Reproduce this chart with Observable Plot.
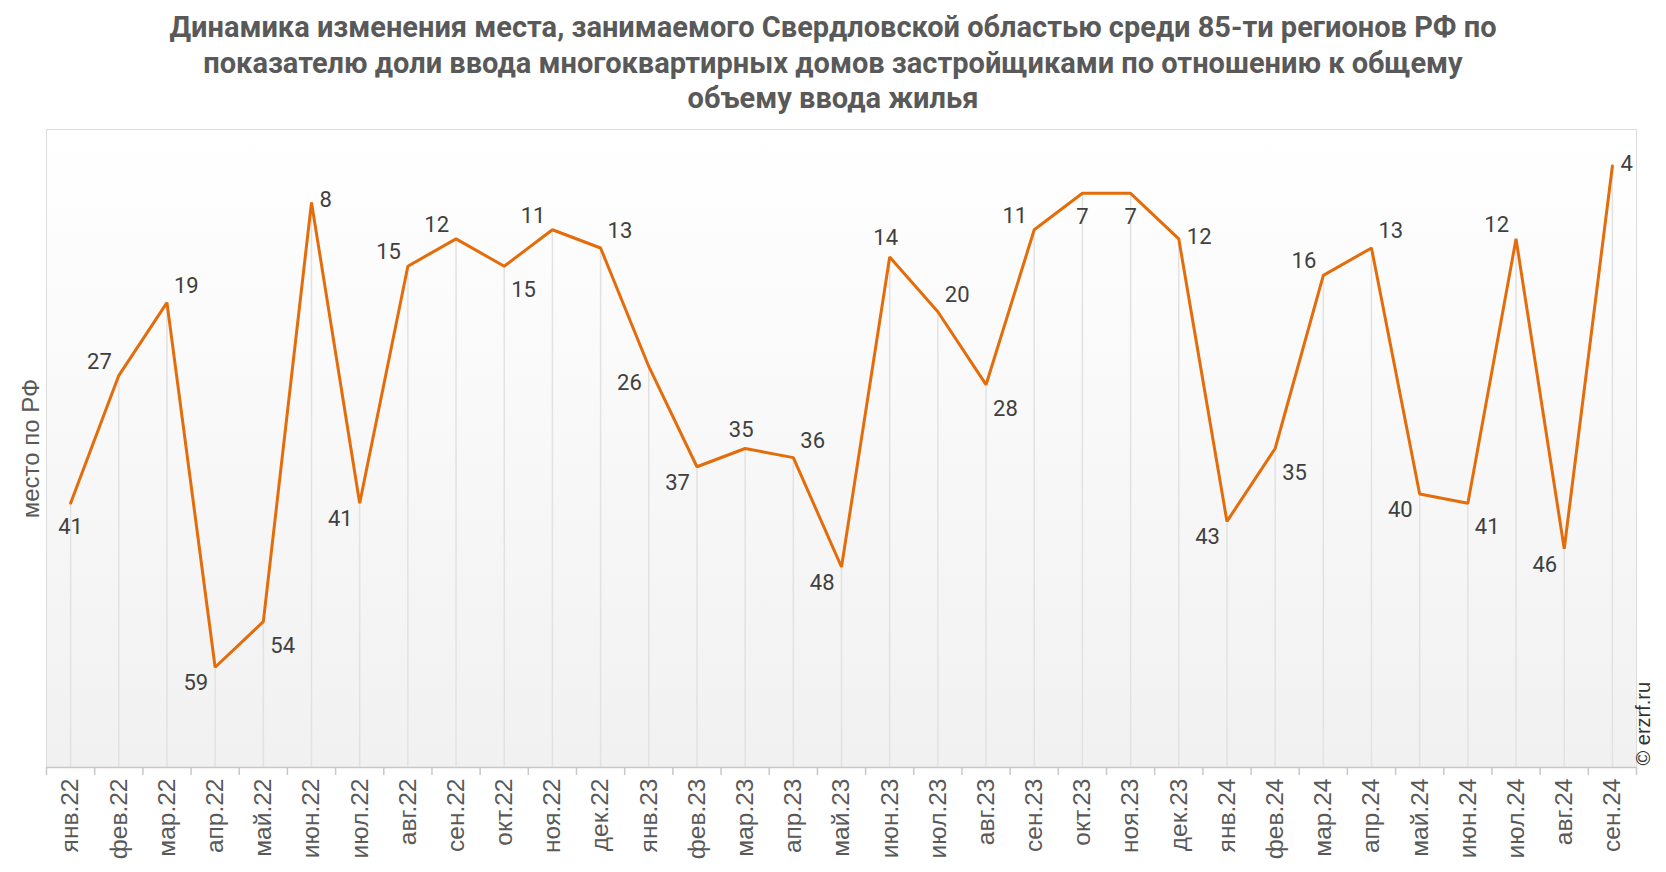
<!DOCTYPE html>
<html><head><meta charset="utf-8">
<script src="https://cdn.jsdelivr.net/npm/d3@7"></script>
<script src="https://cdn.jsdelivr.net/npm/@observablehq/plot@0.6"></script>
<style>
html,body{margin:0;padding:0;background:#fff;}
#title{width:1666px;height:120px;box-sizing:border-box;padding-top:10px;text-align:center;font-family:Roboto,sans-serif;font-weight:700;font-size:29px;line-height:35.5px;color:#595959;}
#chart svg{display:block;}
</style></head><body>
<div id="title">Динамика изменения места, занимаемого Свердловской областью среди 85-ти регионов РФ по<br>показателю доли ввода многоквартирных домов застройщиками по отношению к общему<br>объему ввода жилья</div>
<div id="chart"></div>
<script>
const months = ["янв.22","фев.22","мар.22","апр.22","май.22","июн.22","июл.22","авг.22","сен.22","окт.22","ноя.22","дек.22",
  "янв.23","фев.23","мар.23","апр.23","май.23","июн.23","июл.23","авг.23","сен.23","окт.23","ноя.23","дек.23",
  "янв.24","фев.24","мар.24","апр.24","май.24","июн.24","июл.24","авг.24","сен.24"];
const ranks = [41,27,19,59,54,8,41,15,12,15,11,13, 26,37,35,36,48,14,20,28,11,7,7,12, 43,35,16,13,40,41,12,46,4];
const labelPlacement = ["b","tl","tr","bl","br","r","bl","tl","tl","br","tl","tr",
  "bl","bl","t","tr","bl","t","tr","br","tl","b","b","r",
  "bl","br","tl","tr","bl","br","tl","bl","r"];
const yTitle = "место по РФ";
const credit = "© erzrf.ru";

const data = months.map((m, i) => ({i, month: m, rank: ranks[i], pos: labelPlacement[i]}));
const place = {
  t:  {textAnchor: "middle", dx: -4, dy: -19},
  b:  {textAnchor: "middle", dx: 0,  dy: 24},
  tl: {textAnchor: "end",    dx: -7, dy: -14},
  tr: {textAnchor: "start",  dx: 7,  dy: -17},
  bl: {textAnchor: "end",    dx: -7, dy: 16},
  br: {textAnchor: "start",  dx: 7,  dy: 24},
  l:  {textAnchor: "end",    dx: -8, dy: 0},
  r:  {textAnchor: "start",  dx: 8,  dy: -2}
};
const labelMarks = Object.entries(place).map(([k, o]) =>
  Plot.text(data.filter(d => d.pos === k), {x: "i", y: "rank", text: d => String(d.rank),
    textAnchor: o.textAnchor, dx: o.dx, dy: o.dy, fill: "#404040", fontSize: 22,
    fontFamily: "Roboto, sans-serif"}));

const yMax = 70;
const plot = Plot.plot({
  width: 1666, height: 752,
  marginTop: 9, marginBottom: 105, marginLeft: 46, marginRight: 30,
  style: {fontFamily: "'Liberation Sans', Arial, sans-serif", background: "transparent"},
  x: {type: "linear", domain: [-0.5, months.length - 0.5], label: null},
  y: {domain: [0, yMax], reverse: true, axis: null, label: null},
  marks: [
    Plot.frame({fill: "url(#bgGrad)", stroke: "#dcdcdc"}),
    Plot.ruleX(data, {x: "i", y1: "rank", y2: yMax, stroke: "#e2e2e2", strokeWidth: 1.5}),
    Plot.ruleY([yMax], {stroke: "#c8c8c8", strokeWidth: 1.5}),
    Plot.axisX({ticks: d3.range(months.length + 1).map(i => i - 0.5), tickSize: 8,
      tickFormat: () => "", stroke: "#c8c8c8", strokeWidth: 1.5, label: null}),
    Plot.axisX({ticks: d3.range(months.length), tickSize: 0, tickPadding: 11,
      tickFormat: i => months[i], tickRotate: -90, fontSize: 24.5, color: "#595959", label: null}),
    Plot.line(data, {x: "i", y: "rank", stroke: "#e46c0a", strokeWidth: 3, strokeLinejoin: "miter"}),
    ...labelMarks,
    Plot.text([yTitle], {frameAnchor: "left", text: d => d, rotate: -90, dx: -15,
      fontSize: 24, fill: "#595959", textAnchor: "middle"}),
    Plot.text([credit], {frameAnchor: "bottom-right", text: d => d, rotate: -90, dx: 13, dy: -2,
      fontSize: 20, fill: "#333333", textAnchor: "start"})
  ]
});
const svg = d3.select(plot);
const defs = svg.insert("defs", ":first-child");
const g = defs.append("linearGradient").attr("id", "bgGrad").attr("x1", 0).attr("y1", 0).attr("x2", 0).attr("y2", 1);
g.append("stop").attr("offset", "0%").attr("stop-color", "#ffffff");
g.append("stop").attr("offset", "100%").attr("stop-color", "#f1f1f1");
document.getElementById("chart").appendChild(plot);
</script>
</body></html>
